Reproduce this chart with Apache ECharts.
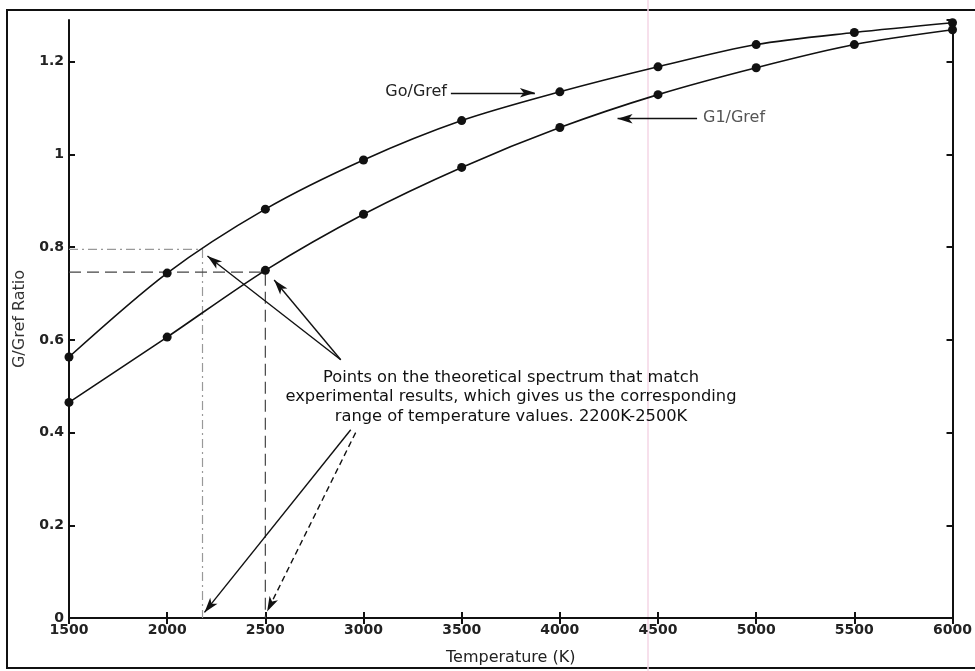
<!DOCTYPE html>
<html>
<head>
<meta charset="utf-8">
<script src="https://cdn.jsdelivr.net/npm/echarts@6/dist/echarts.min.js"></script>
<style>
  html, body { margin: 0; padding: 0; background: #fff; }
  #chart { width: 975px; height: 671px; }
</style>
</head>
<body>
<div id="chart"></div>
<script>
// temperatures (K) and ratios
var temps = [1500, 2000, 2500, 3000, 3500, 4000, 4500, 5000, 5500, 6000];
var goRatio = [0.563, 0.744, 0.882, 0.988, 1.073, 1.135, 1.189, 1.237, 1.263, 1.284];
var g1Ratio = [0.465, 0.606, 0.750, 0.871, 0.972, 1.058, 1.129, 1.187, 1.237, 1.269];

// guide lines down to the temperature axis
var goGuide = [[1500, 0.795], [2180, 0.795], [2180, 0]];
var g1Guide = [[1500, 0.746], [2500, 0.746], [2500, 0]];

// annotation arrows [from, to]
var pointArrows = [
    [[2884, 0.557], [2205, 0.781]],
    [[2884, 0.557], [2545, 0.729]]
];
var axisArrowSolid = [[2935, 0.406], [2190, 0.012]];
var axisArrowDashed = [[2960, 0.400], [2509, 0.014]];
var goLabelArrow = [[3445, 1.133], [3873, 1.133]];
var g1LabelArrow = [[4699, 1.077], [4294, 1.077]];

var FONT = 'DejaVu Sans';

function pairs(xs, ys) {
    var out = [];
    for (var i = 0; i < xs.length; i++) out.push([xs[i], ys[i]]);
    return out;
}

function arrowLine(seg, type) {
    return [
        {coord: seg[0], symbol: 'none'},
        {coord: seg[1], symbol: 'arrow', lineStyle: {type: type || 'solid'}}
    ];
}

var chart = echarts.init(document.getElementById('chart'));

var option = {
    backgroundColor: '#fff',
    animation: false,
    grid: {left: 69, right: 17, top: 20, bottom: 52},
    xAxis: [{
        type: 'value',
        min: 1500, max: 6000, interval: 500,
        name: 'Temperature (K)',
        nameLocation: 'middle',
        nameGap: 32,
        nameTextStyle: {fontFamily: FONT, fontSize: 16, color: '#222'},
        axisLine: {lineStyle: {color: '#111', width: 2}},
        axisTick: {inside: true, length: 6, lineStyle: {color: '#111', width: 2}},
        axisLabel: {
            fontFamily: FONT, fontSize: 14, fontWeight: 'bold', color: '#222', margin: 5,
            formatter: function (v) { return String(v); }
        },
        splitLine: {show: false}
    }, {
        type: 'value', position: 'top',
        min: 1500, max: 6000, interval: 500,
        axisLine: {lineStyle: {color: '#111', width: 2}},
        axisTick: {inside: true, length: 6, lineStyle: {color: '#111', width: 2}},
        axisLabel: {show: false},
        splitLine: {show: false}
    }],
    yAxis: [{
        type: 'value',
        min: 0, max: 1.29, interval: 0.2,
        name: 'G/Gref Ratio',
        nameLocation: 'middle',
        nameGap: 36,
        nameTextStyle: {fontFamily: FONT, fontSize: 16, color: '#333'},
        axisLine: {lineStyle: {color: '#111', width: 2}},
        axisTick: {inside: true, length: 6, lineStyle: {color: '#111', width: 2}},
        axisLabel: {
            fontFamily: FONT, fontSize: 14, fontWeight: 'bold', color: '#222', margin: 5,
            showMaxLabel: false,
            formatter: function (v) { return String(Math.round(v * 10) / 10); }
        },
        splitLine: {show: false}
    }, {
        type: 'value', position: 'right',
        min: 0, max: 1.29, interval: 0.2,
        axisLine: {lineStyle: {color: '#111', width: 2}},
        axisTick: {inside: true, length: 6, lineStyle: {color: '#111', width: 2}},
        axisLabel: {show: false},
        splitLine: {show: false}
    }],
    series: [
        {
            name: 'Go/Gref', type: 'line',
            data: pairs(temps, goRatio),
            smooth: 0.3,
            symbol: 'circle', symbolSize: 9,
            itemStyle: {color: '#111'},
            lineStyle: {color: '#111', width: 1.6},
            z: 5
        },
        {
            name: 'G1/Gref', type: 'line',
            data: pairs(temps, g1Ratio),
            smooth: 0.3,
            symbol: 'circle', symbolSize: 9,
            itemStyle: {color: '#111'},
            lineStyle: {color: '#111', width: 1.6},
            z: 5
        },
        {
            name: 'guide Go', type: 'line',
            data: goGuide,
            symbol: 'none',
            lineStyle: {color: '#999', width: 1.2, type: [9, 4, 2, 4]},
            silent: true, z: 2
        },
        {
            name: 'guide G1', type: 'line',
            data: g1Guide,
            symbol: 'none',
            lineStyle: {color: '#444', width: 1.2, type: [12, 6]},
            silent: true, z: 2
        },
        {
            name: 'arrows', type: 'line',
            data: [],
            markLine: {
                silent: true,
                animation: false,
                symbolSize: [7, 15],
                label: {show: false},
                lineStyle: {color: '#111', width: 1.4, type: 'solid'},
                data: [
                    arrowLine(pointArrows[0]),
                    arrowLine(pointArrows[1]),
                    arrowLine(axisArrowSolid),
                    arrowLine(axisArrowDashed, [6, 4]),
                    arrowLine(goLabelArrow),
                    arrowLine(g1LabelArrow)
                ]
            }
        }
    ],
    graphic: [
        {
            type: 'rect', silent: true, z: -1,
            shape: {x: 7, y: 10, width: 990, height: 658},
            style: {fill: 'none', stroke: '#111', lineWidth: 2}
        },
        {
            type: 'line', silent: true, z: -1,
            shape: {x1: 648, y1: 0, x2: 648, y2: 671},
            style: {stroke: '#f4d6e6', lineWidth: 1.5}
        },
        {
            type: 'text', x: 447, y: 92,
            style: {
                text: 'Go/Gref', align: 'right', verticalAlign: 'middle',
                fontFamily: FONT, fontSize: 16, fill: '#222'
            }
        },
        {
            type: 'text', x: 703, y: 118,
            style: {
                text: 'G1/Gref', align: 'left', verticalAlign: 'middle',
                fontFamily: FONT, fontSize: 16, fill: '#555'
            }
        },
        {
            type: 'text', x: 511, y: 368,
            style: {
                text: 'Points on the theoretical spectrum that match\nexperimental results, which gives us the corresponding\nrange of temperature values. 2200K-2500K',
                align: 'center', verticalAlign: 'top',
                fontFamily: FONT, fontSize: 16.3, lineHeight: 19.5,
                fill: '#111'
            }
        }
    ]
};

chart.setOption(option);
</script>
</body>
</html>
